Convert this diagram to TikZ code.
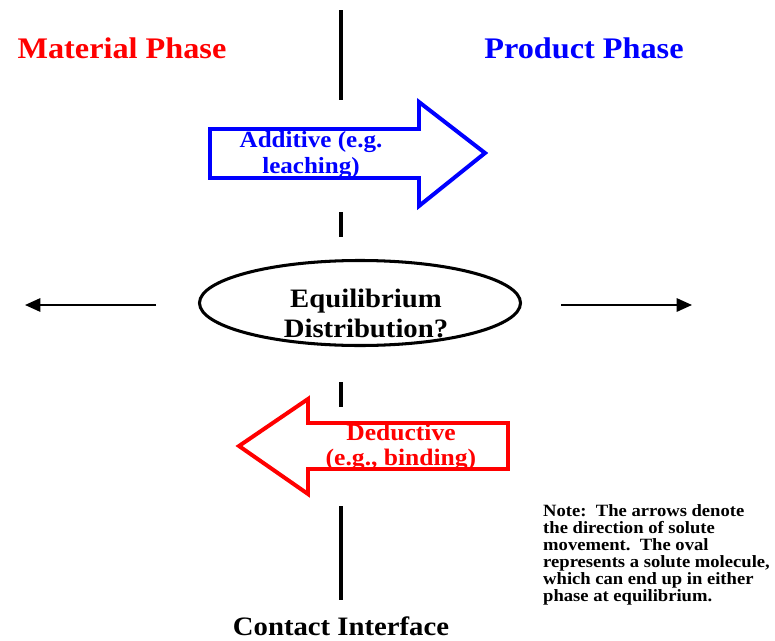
\documentclass[tikz,border=0pt]{standalone}
\usepackage{fontspec}
\setmainfont{Liberation Serif}[FakeStretch=1.08]
\usepackage{xcolor}
\usetikzlibrary{arrows.meta, shapes.geometric}
\definecolor{matred}{HTML}{FF0000}
\definecolor{prodblue}{HTML}{0000FF}

\begin{document}
\begin{tikzpicture}[
    x=0.03cm, y=-0.03cm,
    phase/.style={font=\fontsize{25.5}{28}\selectfont\bfseries},
    flow/.style={line width=3.4pt, line join=miter, fill=white},
    flowtext/.style={font=\fontsize{19.8}{23}\selectfont\bfseries, align=center},
    interface/.style={line width=4.2pt},
    oval/.style={draw, ellipse, line width=2.6pt, minimum width=9.63cm, minimum height=2.55cm},
    move/.style={line width=1.7pt, -{Triangle[length=4.6mm, width=4mm]}},
    note/.style={font=\fontsize{14.7}{14.4}\selectfont\bfseries, align=left, inner sep=0pt},
]
\useasboundingbox (0,0) rectangle (775,641);

% Contact interface (broken line)
\foreach \ya/\yb in {10/100, 212/237, 382/407, 506/600} {
    \draw[interface] (341,\ya) -- (341,\yb);
}

% Phase titles
\node[phase, text=matred] (matphase) at (122,48) {Material Phase};
\node[phase, text=prodblue] (prodphase) at (584,48) {Product Phase};
\node[phase, font=\fontsize{22.7}{25}\selectfont\bfseries, inner sep=1pt] (contact) at (341,626) {Contact Interface};

% Additive - into product
\draw[flow, draw=prodblue] (210,129) -- (419,129) -- (419,102) -- (485,153) -- (419,206) -- (419,178) -- (210,178) -- cycle;
\node[flowtext, text=prodblue] (additive) at (311,155) {Additive (e.g.\\leaching)};

% Deductive - back to material
\draw[flow, draw=matred] (508,423) -- (308,423) -- (308,399) -- (239,446) -- (308,494) -- (308,469) -- (508,469) -- cycle;
\node[flowtext, font=\fontsize{20.2}{21.3}\selectfont\bfseries, text=matred] (deductive) at (401,447) {Deductive\\(e.g., binding)};

% Solute
\node[oval] (solute) at (360,303) {};
\node[font=\fontsize{22.7}{25.6}\selectfont\bfseries, align=center] (soluteText) at (366,313) {Equilibrium\\Distribution?};

\coordinate (lfrom) at (156,305);
\coordinate (lto) at (25,305);
\coordinate (rfrom) at (561,305);
\coordinate (rto) at (692,305);
\draw[move] (lfrom) -- (lto);
\draw[move] (rfrom) -- (rto);

\node[note, anchor=west] (note) at (543,555) {Note:\ \ The arrows denote\\the direction of solute\\movement.\ \ The oval\\represents a solute molecule,\\which can end up in either\\phase at equilibrium.};
\end{tikzpicture}
\end{document}
